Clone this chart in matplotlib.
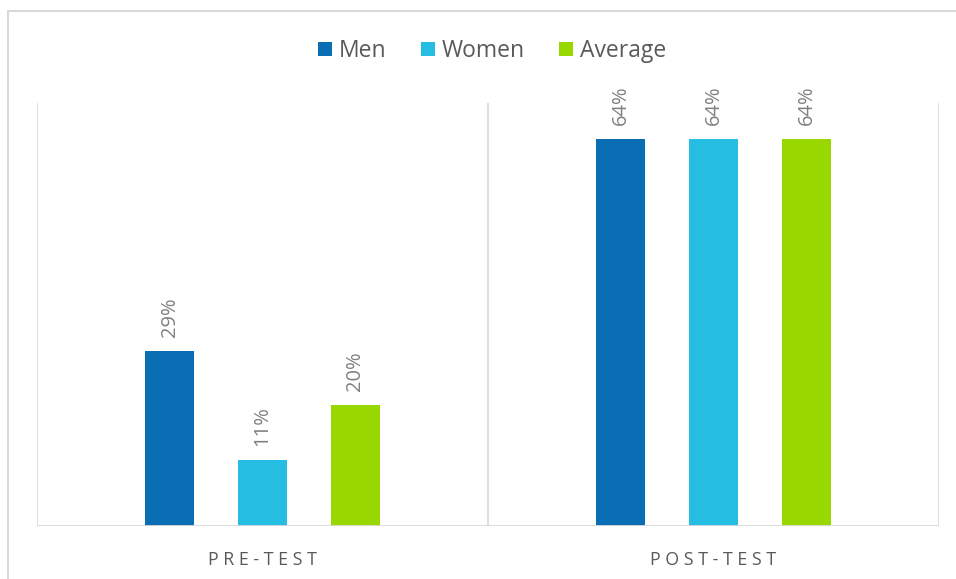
import matplotlib
matplotlib.use("Agg")
import matplotlib.pyplot as plt
import numpy as np
from matplotlib.patches import Rectangle

# data
categories = ["PRE-TEST", "POST-TEST"]
series = ["Men", "Women", "Average"]
men = [0.29, 0.64]
women = [0.11, 0.64]
average = [0.20, 0.64]
values = [men, women, average]
colors = ["#0a6eb4", "#25bde2", "#99d700"]

plt.rcParams["font.family"] = ["Open Sans", "DejaVu Sans"]

fig = plt.figure(figsize=(9.56, 5.79), dpi=100)
ax = fig.add_axes([37 / 956, 1 - 526 / 579, (939 - 37) / 956, (526 - 103) / 579])

# outer chart border
fig.patches.append(Rectangle((8 / 956, -0.1), 1.2, 1 - 11 / 579 + 0.1,
                             transform=fig.transFigure, fill=False,
                             edgecolor="#d9d9d9", linewidth=1.5))

x = np.arange(len(categories))
offsets = [-0.206, 0.0, 0.206]
width = 0.107
for vals, name, col, off in zip(values, series, colors, offsets):
    bars = ax.bar(x + off, vals, width, color=col, label=name, zorder=3)
    for b, v in zip(bars, vals):
        ax.annotate(f"{v:.0%}", (b.get_x() + b.get_width() / 2, v),
                    xytext=(0, 10), textcoords="offset points",
                    rotation=90, ha="center", va="bottom",
                    fontsize=14.5, color="#808080")

ax.set_xlim(-0.5, len(categories) - 0.5)
ax.set_ylim(0, 0.70)
for sep in np.arange(-0.5, len(categories), 1.0):
    ax.axvline(sep, color="#d9d9d9", linewidth=1.2, zorder=1)

for s in ax.spines.values():
    s.set_visible(False)
ax.axhline(0, color="#d9d9d9", linewidth=2, zorder=4)
ax.set_yticks([])
ax.set_xticks(x)
ax.set_xticklabels([" ".join(c) for c in categories], fontsize=12.8,
                   color="#595959")
ax.tick_params(axis="x", length=0, pad=18)

fig.legend(loc="center", bbox_to_anchor=(492 / 956, 1 - 51 / 579), ncol=3,
           frameon=False, fontsize=16.5, labelcolor="#595959",
           handlelength=0.6, handleheight=0.6, handletextpad=0.3,
           columnspacing=1.5)

fig.savefig("out.png", dpi=100)
